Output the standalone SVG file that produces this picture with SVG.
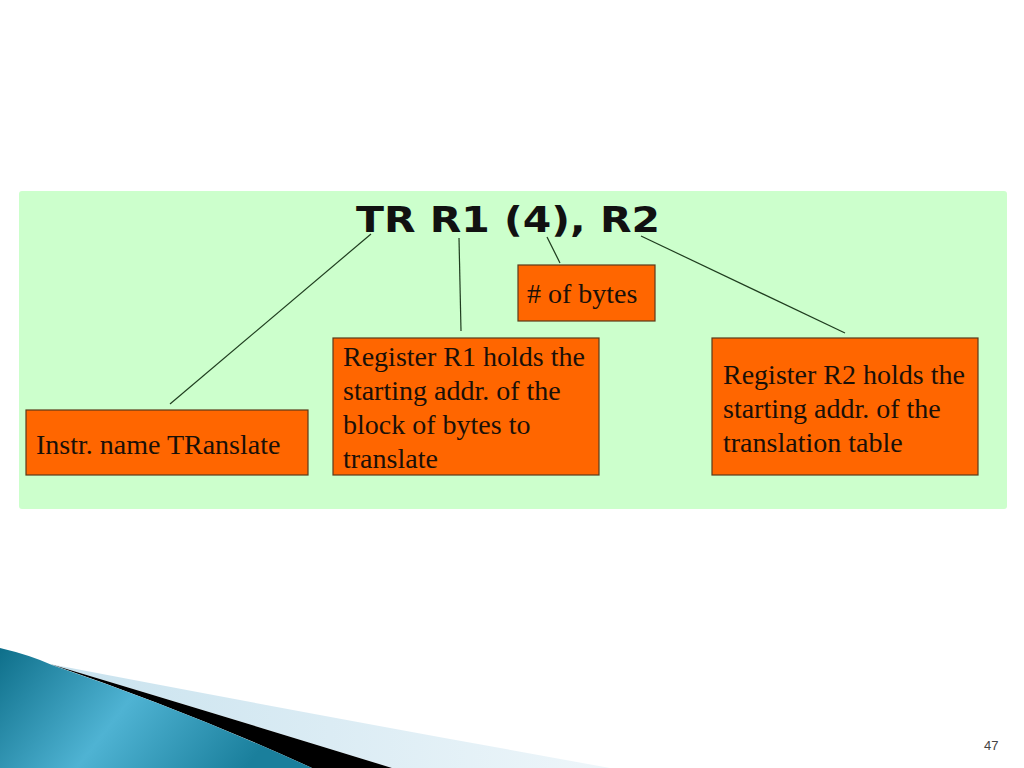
<svg xmlns="http://www.w3.org/2000/svg" width="1024" height="768" viewBox="0 0 1024 768">
<defs>
<style>
.box{fill:#ff6600;stroke:#5a3a1a;stroke-width:1.2}
.t{font-family:"Liberation Serif",serif;font-size:28px;fill:#1a1008}
.conn{stroke:#1f3d1f;stroke-width:1.2;fill:none}
</style>
<linearGradient id="blue" x1="0" y1="0" x2="1" y2="0.3">
<stop offset="0" stop-color="#0e6f8a"/>
<stop offset="0.5" stop-color="#4fb3d3"/>
<stop offset="1" stop-color="#1a7f9c"/>
</linearGradient>
<linearGradient id="light" x1="0" y1="0" x2="1" y2="0">
<stop offset="0" stop-color="#c8e2ee"/>
<stop offset="1" stop-color="#eef6fa"/>
</linearGradient>
</defs>
<rect width="1024" height="768" fill="#ffffff"/>
<rect x="19" y="191" width="988" height="318" rx="3" fill="#ccffcc"/>
<text x="356" y="232" font-family="DejaVu Sans,Verdana,sans-serif" font-weight="bold" font-size="36" textLength="304" lengthAdjust="spacingAndGlyphs" fill="#111">TR R1 (4), R2</text>
<g id="connectors">
<line class="conn" x1="371" y1="234" x2="170" y2="404"/>
<line class="conn" x1="459" y1="238" x2="461" y2="331"/>
<line class="conn" x1="547" y1="237" x2="560" y2="263"/>
<line class="conn" x1="641" y1="236" x2="845" y2="333"/>
</g>
<g id="bytes">
<rect class="box" x="518" y="265" width="137" height="56"/>
<text class="t" x="527" y="303">#<tspan dx="7">of bytes</tspan></text>
</g>
<g id="r1">
<rect class="box" x="333" y="338" width="266" height="137"/>
<text class="t" x="343" y="366">Register R1 holds the</text>
<text class="t" x="343" y="400">starting addr. of the</text>
<text class="t" x="343" y="434">block of bytes to</text>
<text class="t" x="343" y="468">translate</text>
</g>
<g id="r2">
<rect class="box" x="712" y="338" width="266" height="137"/>
<text class="t" x="723" y="384">Register R2 holds the</text>
<text class="t" x="723" y="418">starting addr. of the</text>
<text class="t" x="723" y="452">translation table</text>
</g>
<g id="instr">
<rect class="box" x="26" y="410" width="282" height="65"/>
<text class="t" x="36" y="454">Instr. name TRanslate</text>
</g>
<path d="M50 664 Q300 712 610 768 L392 768 Q230 718 50 664 Z" fill="url(#light)"/>
<path d="M50 664 Q230 718 392 768 L312 768 Q190 712 50 664 Z" fill="#000"/>
<path d="M0 648 Q30 655 52 665 Q190 712 312 768 L0 768 Z" fill="url(#blue)"/>
<text x="984" y="750" font-family="Liberation Sans,Arial,sans-serif" font-size="13" fill="#444">47</text>
</svg>
